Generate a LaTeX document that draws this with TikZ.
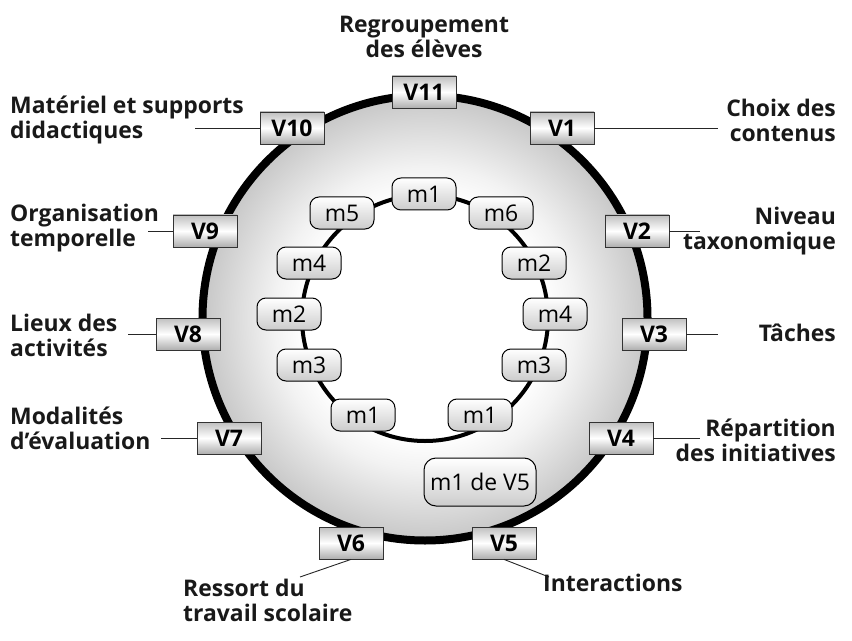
\documentclass[tikz,border=0pt]{standalone}
\usepackage{fontspec}
\setmainfont{Open Sans}
\pgfdeclareradialshading{ringshade}{\pgfpoint{0bp}{0bp}}{color(0bp)=(white); color(13.5bp)=(white); color(17bp)=(black!5); color(25bp)=(black!22); color(50bp)=(black!22)}
\tikzset{
  vbox/.style={draw=black!80, line width=0.8bp, minimum width=64bp, minimum height=32bp, inner sep=0pt,
    top color=black!25, bottom color=black!32, middle color=white, font=\bfseries\fontsize{23}{25}\selectfont},
  mbox/.style={draw=black, line width=1bp, rounded corners=9bp, minimum width=64bp, minimum height=32bp, inner sep=0pt,
    top color=white, bottom color=black!20, font=\fontsize{23}{25}\selectfont},
  lab/.style={font=\bfseries\fontsize{23}{25}\selectfont, text=black!90, inner sep=0pt},
  lead/.style={line width=0.9bp, black!85}
}
\begin{document}
\begin{tikzpicture}[x=1bp,y=-1bp]
    \useasboundingbox (0,0) rectangle (852,641);
    % the two rings
    \coordinate (c) at (425,318);
    \draw[line width=8bp, shading=ringshade] (c) circle (222.5bp);
    \draw[line width=4bp, fill=white] (c) circle (123bp);
    % free ends of the leads
    \coordinate (e10) at (195,128);
    \coordinate (e1) at (718,128);
    \coordinate (e9) at (148,231);
    \coordinate (e2) at (700,231);
    \coordinate (e8) at (128,334);
    \coordinate (e3) at (718,334);
    \coordinate (e7) at (161,438);
    \coordinate (e4) at (700,438);
    \coordinate (e6) at (300,577);
    \coordinate (e5) at (549,577);
    % variables on the outer ring
    \node[vbox] (v11) at (424,92) {V11};
    \node[vbox] (v10) at (292,128) {V10};
    \node[vbox] (v1) at (562,128) {V1};
    \node[vbox] (v9) at (205,231) {V9};
    \node[vbox] (v2) at (637,231) {V2};
    \node[vbox] (v8) at (188,334) {V8};
    \node[vbox] (v3) at (654,334) {V3};
    \node[vbox] (v7) at (229,438) {V7};
    \node[vbox] (v4) at (621,438) {V4};
    \node[vbox] (v6) at (351,543) {V6};
    \node[vbox] (v5) at (504,543) {V5};
    \draw[lead] (v10.west) -- (e10);
    \draw[lead] (v1.east) -- (e1);
    \draw[lead] (v9.west) -- (e9);
    \draw[lead] (v2.east) -- (e2);
    \draw[lead] (v8.west) -- (e8);
    \draw[lead] (v3.east) -- (e3);
    \draw[lead] (v7.west) -- (e7);
    \draw[lead] (v4.east) -- (e4);
    \draw[lead] (v6.south) -- (e6);
    \draw[lead] (v5.south) -- (e5);
    % modalities on the inner ring
    \node[mbox] (m1t) at (424,194) {m1};
    \node[mbox] (m5l) at (342,213) {m5};
    \node[mbox] (m6r) at (501,213) {m6};
    \node[mbox] (m4l) at (309,263) {m4};
    \node[mbox] (m2r) at (534,263) {m2};
    \node[mbox] (m2l) at (289,314) {m2};
    \node[mbox] (m4r) at (555,314) {m4};
    \node[mbox] (m3l) at (309,365) {m3};
    \node[mbox] (m3r) at (534,365) {m3};
    \node[mbox] (m1l) at (363,415) {m1};
    \node[mbox] (m1r) at (480,415) {m1};
    \node[mbox, minimum width=112bp, minimum height=48bp, rounded corners=12bp] (m1v5) at (480,482) {m1 de V5};
    % names of the variables
    \node[lab, align=center] (l11) at (424,37) {Regroupement\\des élèves};
    \node[lab, align=left, anchor=west] (l10) at (10,120) {Matériel et supports\\didactiques};
    \node[lab, align=right, anchor=east] (l1) at (836,120) {Choix des\\contenus};
    \node[lab, align=left, anchor=west] (l9) at (10,228) {Organisation\\temporelle};
    \node[lab, align=right, anchor=east] (l2) at (836,231) {Niveau\\taxonomique};
    \node[lab, align=left, anchor=west] (l8) at (10,335) {Lieux des\\activités};
    \node[lab, anchor=east] (l3) at (836,333) {Tâches};
    \node[lab, align=left, anchor=west] (l7) at (10,428) {Modalités\\d’évaluation};
    \node[lab, align=right, anchor=east] (l4) at (836,440) {Répartition\\des initiatives};
    \node[lab, align=left, anchor=west] (l6) at (183,600) {Ressort du\\travail scolaire};
    \node[lab, anchor=west] (l5) at (543,583) {Interactions};
\end{tikzpicture}
\end{document}
